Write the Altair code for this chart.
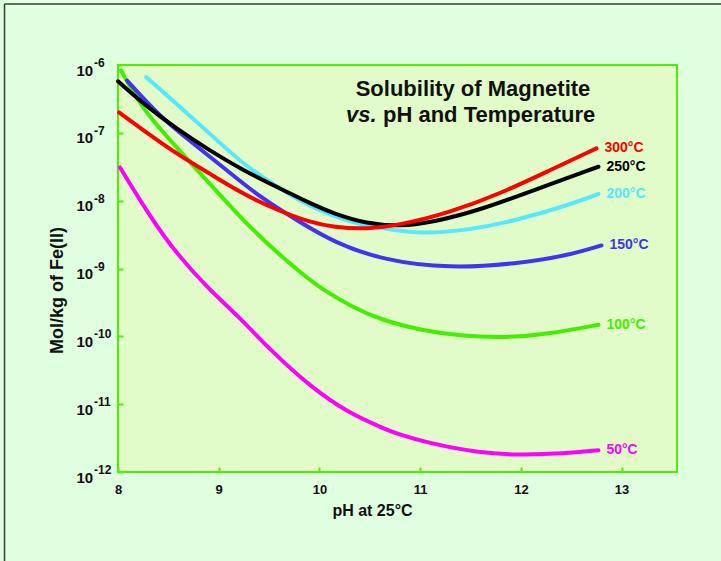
import altair as alt
import pandas as pd

# ---- data (pH, log10 of mol/kg Fe(II)) ----
temps = ["50°C", "100°C", "150°C", "200°C", "250°C", "300°C"]
colors = ["#ff00ff", "#44ee00", "#4433ee", "#55e8ff", "#000000", "#ff0000"]

ph_50 = [8.02, 8.32, 8.58, 8.91, 9.18, 9.51, 9.91, 10.30, 10.60, 10.75, 11.10, 11.59, 11.99, 12.42, 12.77]
lg_50 = [-7.51, -8.24, -8.78, -9.32, -9.68, -10.20, -10.745, -11.14, -11.33, -11.43, -11.58, -11.72, -11.75, -11.73, -11.68]

ph_100 = [8.03, 8.25, 8.58, 8.91, 9.24, 9.58, 9.87, 10.01, 10.34, 10.60, 11.00, 11.43, 11.86, 12.26, 12.77]
lg_100 = [-6.08, -6.67, -7.21, -7.75, -8.29, -8.77, -9.13, -9.29, -9.58, -9.75, -9.91, -10.00, -10.02, -9.97, -9.83]

ph_150 = [8.09, 8.42, 8.75, 9.08, 9.41, 9.81, 10.14, 10.63, 11.30, 11.96, 12.46, 12.80]
lg_150 = [-6.23, -6.77, -7.16, -7.55, -7.95, -8.32, -8.61, -8.88, -9.00, -8.93, -8.81, -8.66]

ph_200 = [8.28, 8.58, 8.91, 9.24, 9.58, 9.91, 10.30, 10.63, 11.00, 11.46, 11.96, 12.46, 12.77]
lg_200 = [-6.18, -6.57, -7.01, -7.46, -7.80, -8.09, -8.32, -8.41, -8.49, -8.44, -8.29, -8.07, -7.90]

ph_250 = [8.00, 8.25, 8.58, 8.91, 9.24, 9.58, 9.91, 10.14, 10.47, 10.80, 11.13, 11.63, 12.12, 12.77]
lg_250 = [-6.24, -6.57, -6.94, -7.26, -7.55, -7.80, -8.04, -8.19, -8.34, -8.38, -8.32, -8.12, -7.85, -7.50]

ph_300 = [8.01, 8.25, 8.58, 8.91, 9.24, 9.58, 9.91, 10.14, 10.47, 10.80, 11.30, 11.79, 12.29, 12.75]
lg_300 = [-6.70, -6.96, -7.31, -7.60, -7.90, -8.14, -8.32, -8.39, -8.42, -8.36, -8.17, -7.90, -7.55, -7.23]

x_ticks = [8, 9, 10, 11, 12, 13]
y_exps = [-6, -7, -8, -9, -10, -11, -12]

series = [(ph_50, lg_50), (ph_100, lg_100), (ph_150, lg_150),
          (ph_200, lg_200), (ph_250, lg_250), (ph_300, lg_300)]

rows = []
for i, (t, (phs, lgs)) in enumerate(zip(temps, series)):
    for j, (p, l) in enumerate(zip(phs, lgs)):
        rows.append({"temp": t, "order": i, "idx": j, "ph": p, "sol": 10 ** l})
df = pd.DataFrame(rows)
ends = df.sort_values("idx").groupby("temp", as_index=False).last()
exp_df = pd.DataFrame({"sol": [10 ** e for e in y_exps], "txt": [str(e) for e in y_exps]})

FONT = "Liberation Sans"
GREEN = "#4ef000"
INK = "#111111"
W, H = 559, 407

xs = alt.X("ph:Q", scale=alt.Scale(domain=[8, 13.55], nice=False, zero=False),
           axis=alt.Axis(values=x_ticks, format="d", domain=False, grid=False,
                         tickColor=GREEN, tickWidth=2, tickSize=5, offset=-5,
                         labelFont=FONT, labelFontSize=13, labelFontWeight="bold",
                         labelColor=INK, labelPadding=11, labelFlush=False,
                         title="pH at 25°C", titleFont=FONT, titleFontSize=16,
                         titleFontWeight="bold", titleColor=INK,
                         titleX=254, titleY=48, titleBaseline="alphabetic"))
ys = alt.Y("sol:Q", scale=alt.Scale(type="log", domain=[1e-12, 1e-6]),
           axis=alt.Axis(values=[10 ** e for e in y_exps], labelExpr="'10'",
                         domain=False, grid=False, tickColor=GREEN, tickWidth=2,
                         tickSize=5, offset=-5, labelFont=FONT, labelFontSize=15,
                         labelFontWeight="bold", labelColor=INK, labelPadding=42,
                         labelAlign="left", labelBaseline="middle", labelOffset=5,
                         title="Mol/kg of Fe(II)", titleFont=FONT, titleFontSize=18,
                         titleFontWeight="bold", titleColor=INK,
                         titleAngle=-90, titleX=-66, titleY=225,
                         titleBaseline="middle", titleAlign="center"))

color = alt.Color("temp:N", scale=alt.Scale(domain=temps, range=colors), legend=None)

lines = alt.Chart(df).mark_line(strokeWidth=4, strokeCap="round",
                                interpolate="basis").encode(
    x=xs, y=ys, color=color, detail="temp:N", order="idx:Q")

labels = alt.Chart(ends).mark_text(align="left", baseline="middle", dx=8,
                                   font=FONT, fontSize=14, fontWeight="bold").encode(
    x="ph:Q", y="sol:Q", text="temp:N", color=color)

exps = alt.Chart(exp_df).mark_text(align="left", baseline="middle", dy=-2,
                                   font=FONT, fontSize=12, fontWeight="bold",
                                   color=INK).encode(
    x=alt.value(-24), y="sol:Q", text="txt:N")

one = pd.DataFrame({"a": [0]})
t1 = alt.Chart(one).mark_text(text="Solubility of Magnetite", font=FONT, fontSize=22,
                              fontWeight="bold", align="center", baseline="alphabetic",
                              color=INK).encode(x=alt.value(355), y=alt.value(31))
t2 = alt.Chart(one).mark_text(text="vs.", font=FONT, fontSize=22, fontWeight="bold",
                              fontStyle="italic", align="left", baseline="alphabetic",
                              color=INK).encode(x=alt.value(228), y=alt.value(57))
t3 = alt.Chart(one).mark_text(text="pH and Temperature", font=FONT, fontSize=22,
                              fontWeight="bold", align="left", baseline="alphabetic",
                              color=INK).encode(x=alt.value(265), y=alt.value(57))

frame_l = alt.Chart(one).mark_rule(color="#3a3a3a", strokeWidth=1.5).encode(
    x=alt.value(-113.5), y=alt.value(-61), y2=alt.value(500))
frame_t = alt.Chart(one).mark_rule(color="#3a3a3a", strokeWidth=1.5).encode(
    y=alt.value(-61), x=alt.value(-113.5), x2=alt.value(610))

chart = alt.layer(frame_l, frame_t, lines, labels, exps, t1, t2, t3).properties(
    width=W, height=H,
    autosize=alt.AutoSizeParams(type="none"),
    padding={"left": 118, "top": 65, "right": 721 - 118 - W, "bottom": 561 - 65 - H},
    background="#e0fee0",
).configure_view(fill="#e1fcc8", stroke=GREEN, strokeWidth=2)

chart.save("out.html", embed_options={"renderer": "svg", "actions": False})
